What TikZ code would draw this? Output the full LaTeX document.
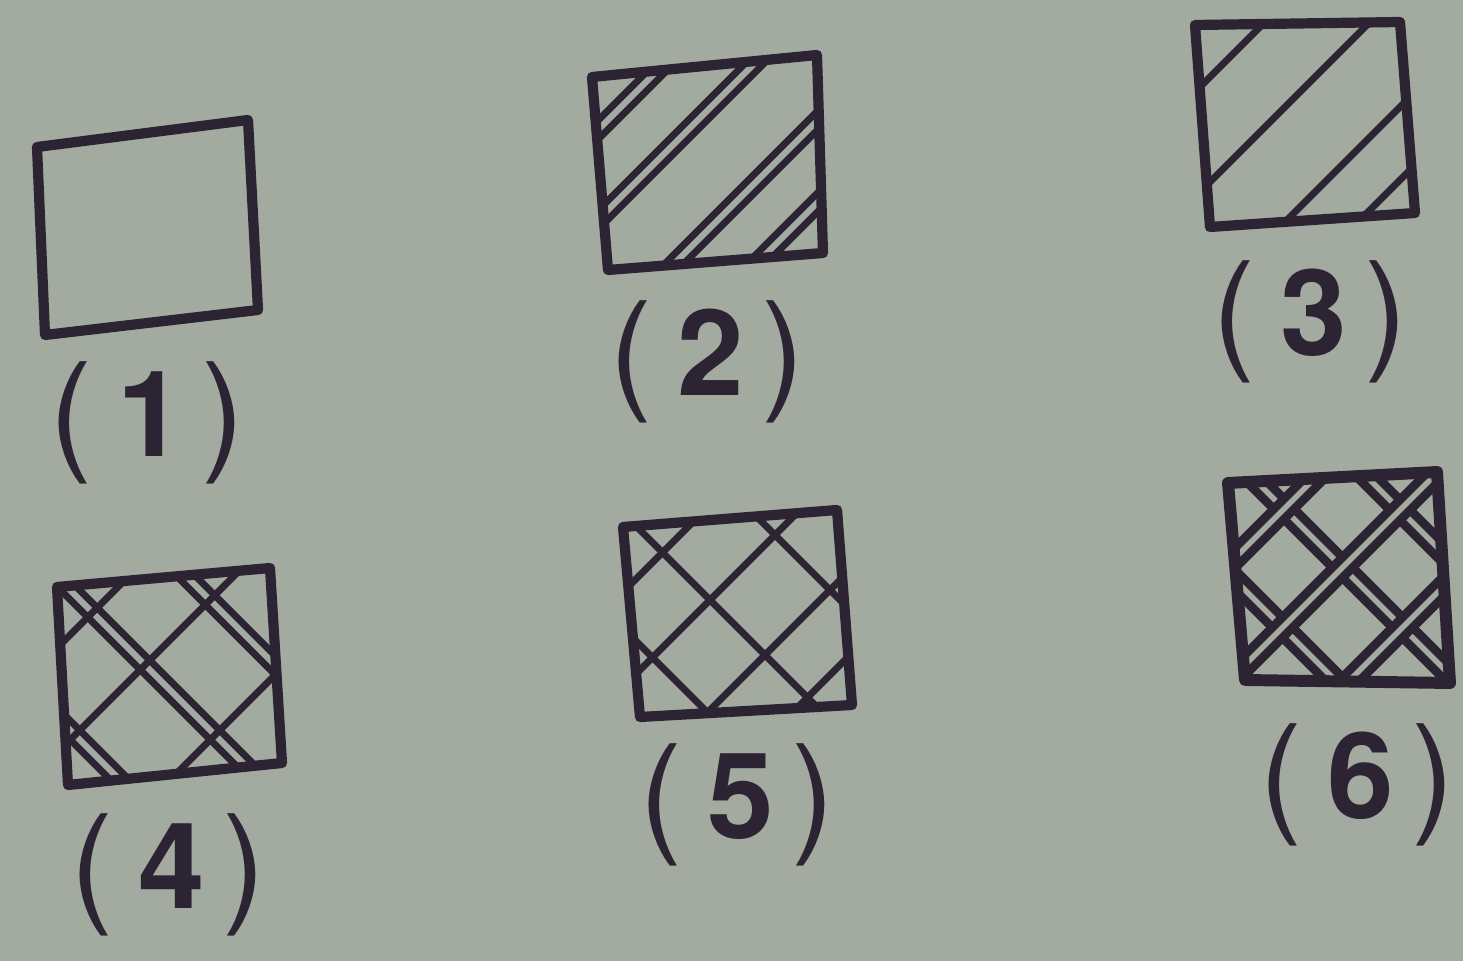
\documentclass[tikz,border=0pt]{standalone}
\usepackage{fontspec}
\setsansfont{TeX Gyre Heros}
\usetikzlibrary{calc}
\definecolor{paper}{RGB}{163,170,160}
\definecolor{ink}{RGB}{44,36,50}
\newcommand{\numlbl}[1]{{\fontsize{37}{37}\selectfont(}\hspace{7pt}{\fontsize{34}{34}\selectfont\bfseries #1}\hspace{5pt}{\fontsize{37}{37}\selectfont)}}

\begin{document}
\begin{tikzpicture}[
  x=0.01cm, y=-0.01cm,
  frame/.style = {draw=ink, line width=2.9pt, line join=round},
  hatch/.style = {draw=ink, line width=2pt},
  dbl/.style   = {draw=ink, line width=2pt, double=paper, double distance=1.8pt},
  numlabel/.style = {text=ink, inner sep=0pt, font=\sffamily}
]
  \fill[paper] (0,0) rectangle (1463,961);

  % (1) empty box
  \draw[frame] (37,147) -- (248,120) -- (258,310) -- (45,335) -- cycle;

  % (2) double lines
  \begin{scope}
    \clip (592,77) -- (817,55) -- (823,253) -- (608,270) -- cycle;
    \foreach \c in {728,818,938,1020}
      \draw[dbl] (\c,0) -- ++(-1000,1000);
  \end{scope}
  \draw[frame] (592,77) -- (817,55) -- (823,253) -- (608,270) -- cycle;

  % (3) single lines
  \begin{scope}
    \clip (1195,25) -- (1400,22) -- (1415,213) -- (1210,227) -- cycle;
    \foreach \c in {1287,1392,1507,1580}
      \draw[hatch] (\c,0) -- ++(-1000,1000);
  \end{scope}
  \draw[frame] (1195,25) -- (1400,22) -- (1415,213) -- (1210,227) -- cycle;

  % (4) double one way, single the other
  \begin{scope}
    \clip (57,587) -- (270,568) -- (282,763) -- (68,785) -- cycle;
    \foreach \d in {-660,-520,-390}
      \draw[dbl] (\d,0) -- ++(1000,1000);
    \foreach \c in {705,810,950}
      \draw[hatch] (\c,0) -- ++(-1000,1000);
  \end{scope}
  \draw[frame] (57,587) -- (270,568) -- (282,763) -- (68,785) -- cycle;

  % (5) single both ways
  \begin{scope}
    \clip (623,527) -- (837,510) -- (852,705) -- (640,717) -- cycle;
    \foreach \d in {-5,110,240}
      \draw[hatch] (\d,0) -- ++(1000,1000);
    \foreach \c in {1215,1310,1420,1505}
      \draw[hatch] (\c,0) -- ++(-1000,1000);
  \end{scope}
  \draw[frame] (623,527) -- (837,510) -- (852,705) -- (640,717) -- cycle;

  % (6) double both ways, heavier
  \begin{scope}
    \clip (1228,483) -- (1437,472) -- (1450,683) -- (1245,680) -- cycle;
    \foreach \d in {655,775,890}
      \draw[dbl, line width=2.5pt, double distance=1.6pt] (\d,0) -- ++(1000,1000);
    \foreach \c in {1793,1910,2030}
      \draw[dbl, line width=2.5pt, double distance=1.6pt] (\c,0) -- ++(-1000,1000);
  \end{scope}
  \draw[frame, line width=3.4pt] (1228,483) -- (1437,472) -- (1450,683) -- (1245,680) -- cycle;

  % labels
  \node[numlabel] (n1) at (147,423) {\numlbl{1}};
  \node[numlabel] (n2) at (707,362) {\numlbl{2}};
  \node[numlabel] (n3) at (1310,322) {\numlbl{3}};
  \node[numlabel] (n4) at (168,875) {\numlbl{4}};
  \node[numlabel] (n5) at (737,805) {\numlbl{5}};
  \node[numlabel] (n6) at (1357,785) {\numlbl{6}};
\end{tikzpicture}
\end{document}
